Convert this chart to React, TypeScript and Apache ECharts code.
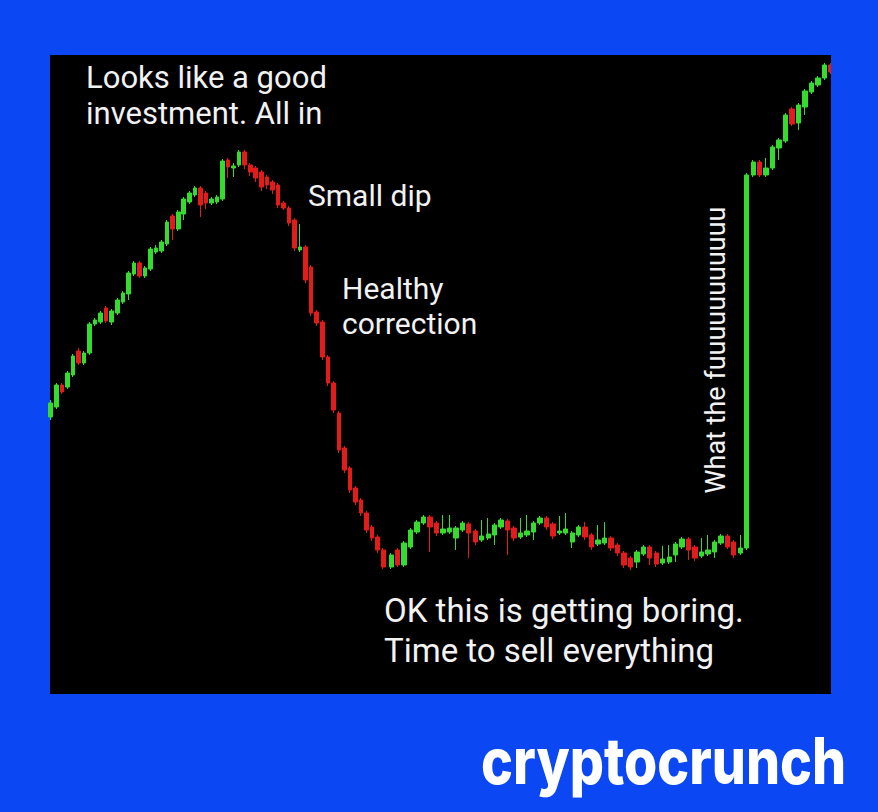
import React, { useEffect, useRef } from "react";
import * as echarts from "echarts";

// OHLC candles: [open, close, low, high]
const pumpAndDump: number[][] = [
  [277, 291, 274, 294], [287, 309, 285, 311], [309, 302, 300, 311], [307, 321, 305, 323],
  [319, 338, 317, 340], [343, 331, 329, 346], [331, 341, 329, 343], [341, 370, 339, 372],
  [370, 374, 368, 376], [372, 381, 370, 383], [386, 373, 371, 388], [372, 383, 369, 385],
  [381, 394, 379, 396], [392, 401, 390, 403], [400, 421, 394, 423], [420, 431, 418, 433],
  [431, 418, 416, 433], [418, 426, 416, 428], [425, 445, 423, 447], [442, 446, 440, 449],
  [443, 452, 441, 454], [450, 472, 448, 474], [478, 465, 454, 480], [465, 482, 463, 484],
  [480, 495, 474, 497], [492, 501, 490, 503], [499, 506, 497, 508], [506, 489, 477, 508],
  [501, 491, 485, 503], [491, 495, 489, 497], [492, 497, 490, 499], [495, 533, 493, 535],
  [534, 527, 516, 536], [526, 528, 517, 531], [529, 542, 527, 544], [542, 529, 525, 544],
  [529, 522, 518, 531], [526, 516, 512, 528], [522, 507, 503, 524], [517, 509, 505, 519],
  [512, 504, 500, 514], [509, 489, 486, 511], [491, 486, 484, 493], [486, 471, 468, 488],
  [474, 446, 443, 476], [444, 447, 442, 470], [447, 414, 411, 449], [427, 381, 378, 429],
  [382, 371, 368, 384], [372, 337, 334, 374], [337, 311, 308, 339], [311, 284, 281, 313],
  [281, 244, 241, 283], [246, 224, 221, 248], [226, 204, 201, 228], [206, 192, 189, 208],
  [194, 181, 178, 196], [181, 164, 161, 183], [167, 156, 153, 169], [157, 144, 141, 159],
  [144, 127, 125, 146],
];

const sidewaysAndMoon: number[][] = [
  [127, 139, 125, 141], [144, 129, 127, 146], [129, 151, 127, 153], [147, 164, 145, 166],
  [162, 172, 160, 174], [171, 177, 169, 179], [177, 167, 142, 179], [171, 161, 158, 173],
  [161, 165, 159, 179], [162, 166, 160, 179], [156, 166, 144, 168], [164, 171, 162, 173],
  [170, 161, 136, 172], [163, 152, 149, 165], [154, 158, 152, 174], [156, 160, 154, 176],
  [159, 169, 149, 171], [167, 174, 165, 176], [173, 164, 139, 175], [166, 156, 153, 168],
  [157, 161, 155, 176], [159, 163, 157, 179], [162, 171, 154, 173], [171, 176, 169, 178],
  [176, 167, 164, 178], [170, 158, 155, 172], [161, 163, 159, 178], [161, 165, 159, 181],
  [152, 161, 146, 163], [159, 167, 157, 169], [167, 157, 154, 172], [159, 147, 144, 161],
  [150, 154, 148, 169], [151, 156, 149, 172], [156, 146, 143, 158], [149, 141, 138, 151],
  [141, 129, 126, 143], [136, 127, 124, 138], [132, 142, 126, 144], [140, 147, 138, 149],
  [147, 136, 129, 149], [141, 130, 127, 143], [131, 135, 129, 148], [132, 137, 130, 149],
  [139, 150, 132, 152], [147, 155, 145, 157], [155, 144, 134, 157], [147, 136, 133, 149],
  [138, 142, 136, 156], [140, 144, 138, 159], [142, 152, 136, 154], [151, 158, 149, 160],
  [158, 147, 145, 160], [152, 139, 136, 154], [141, 146, 139, 159], [146, 519, 144, 521],
  [519, 532, 517, 534], [532, 519, 517, 534], [519, 526, 517, 536], [526, 547, 524, 549],
  [546, 554, 534, 556], [553, 579, 551, 581], [585, 570, 568, 587],
  [571, 589, 564, 591], [587, 603, 579, 605], [602, 611, 600, 613], [609, 616, 607, 618],
  [616, 629, 614, 631], [629, 622, 620, 631],
];

const daysA = pumpAndDump.map((_, i) => "A" + (i + 1));
const daysB = sidewaysAndMoon.map((_, i) => "B" + (i + 1));

const annotations = {
  allIn: "Looks like a good\ninvestment. All in",
  dip: "Small dip",
  correction: "Healthy\ncorrection",
  boring: "OK this is getting boring.\nTime to sell everything",
  wtf: "What the fuuuuuuuuuuu",
  brand: "cryptocrunch",
};

const BLUE = "#0b48f4";
const UP = "#35dc2e";
const DOWN = "#e41b1b";

export default function App() {
  const ref = useRef<HTMLDivElement>(null);
  useEffect(() => {
    document.body.style.margin = "0";
    if (!ref.current) return;
    const chart = echarts.init(ref.current, null, { renderer: "svg" });
    const itemStyle = { color: UP, color0: DOWN, borderColor: UP, borderColor0: DOWN, borderWidth: 1 };
    const font = "Roboto, 'Open Sans', sans-serif";
    chart.setOption({
      animation: false,
      backgroundColor: BLUE,
      grid: [
        { left: 48, top: 55, width: 338, height: 639 },
        { left: 388, top: 55, width: 446, height: 639 },
      ],
      xAxis: [
        { type: "category", gridIndex: 0, data: daysA, show: false },
        { type: "category", gridIndex: 1, data: daysB, show: false },
      ],
      yAxis: [
        { type: "value", gridIndex: 0, min: 0, max: 639, show: false },
        { type: "value", gridIndex: 1, min: 0, max: 639, show: false },
      ],
      series: [
        { type: "candlestick", xAxisIndex: 0, yAxisIndex: 0, data: pumpAndDump, barWidth: "74%", itemStyle },
        { type: "candlestick", xAxisIndex: 1, yAxisIndex: 1, data: sidewaysAndMoon, barWidth: "75%", itemStyle },
      ],
      graphic: [
        { type: "rect", z: -10, silent: true, shape: { x: 50, y: 55, width: 781, height: 639 }, style: { fill: "#000" } },
        { type: "rect", z: 50, silent: true, shape: { x: 831, y: 0, width: 47, height: 812 }, style: { fill: BLUE } },
        {
          type: "text", z: 60, x: 86, y: 59,
          style: { text: annotations.allIn, fill: "#f2f2f2", font: `31px ${font}`, lineHeight: 36, verticalAlign: "top" },
        },
        {
          type: "text", z: 60, x: 308, y: 195,
          style: { text: annotations.dip, fill: "#f2f2f2", font: `30px ${font}`, verticalAlign: "middle" },
        },
        {
          type: "text", z: 60, x: 342, y: 271,
          style: { text: annotations.correction, fill: "#f2f2f2", font: `30px ${font}`, lineHeight: 35, verticalAlign: "top" },
        },
        {
          type: "text", z: 60, x: 384, y: 590,
          style: { text: annotations.boring, fill: "#f2f2f2", font: `33px ${font}`, lineHeight: 40, verticalAlign: "top" },
        },
        {
          type: "text", z: 60, x: 716, y: 350, rotation: Math.PI / 2,
          style: { text: annotations.wtf, fill: "#f2f2f2", font: `27px ${font}`, align: "center", verticalAlign: "middle" },
        },
        {
          type: "text", z: 100, x: 481, y: 761, scaleX: 0.84,
          style: { text: annotations.brand, fill: "#ffffff", font: `800 64px Inter, sans-serif`, verticalAlign: "middle" },
        },
      ],
    });
    return () => chart.dispose();
  }, []);
  return <div ref={ref} style={{ width: 878, height: 812 }} />;
}
